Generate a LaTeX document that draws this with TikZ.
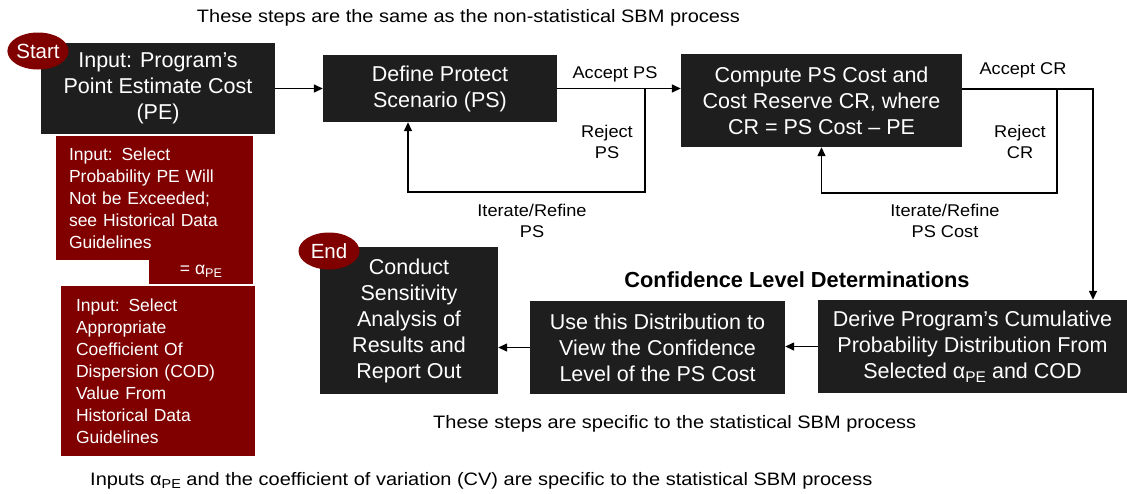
\documentclass[tikz,border=0pt]{standalone}
\usepackage{fontspec}
\usepackage{graphicx}
\setmainfont{Liberation Sans}
\newfontfamily\widefont[FakeStretch=1.11]{Liberation Sans}
\newfontfamily\lblfont[FakeStretch=1.07]{Liberation Sans}
\usetikzlibrary{arrows.meta,shapes.geometric}
\definecolor{boxdark}{HTML}{1E1E1E}
\definecolor{maroon}{HTML}{800000}
\newcommand{\ape}{α\raisebox{-0.35ex}{\scalebox{0.72}{PE}}}
\tikzset{
  darkbox/.style={draw=none, fill=boxdark, text=white, align=center, inner sep=0pt,
    font=\fontsize{21.5pt}{26pt}\selectfont},
  redbox/.style={draw=none, fill=maroon, text=white, align=left, inner ysep=0pt,
    font=\fontsize{17.5pt}{22pt}\selectfont},
  oval/.style={ellipse, fill=maroon, text=white, inner sep=0pt, minimum width=61pt,
    minimum height=37pt, font=\fontsize{20.5pt}{24pt}\selectfont},
  lbl/.style={align=center, inner sep=0pt, font=\lblfont\fontsize{17pt}{21pt}\selectfont},
  caption/.style={inner sep=0pt, font=\widefont\fontsize{18pt}{22pt}\selectfont},
  conn/.style={line width=1.4pt, -{Triangle[length=9pt,width=8pt]}}
}
\begin{document}
\begin{tikzpicture}[x=1pt,y=-1pt]
\useasboundingbox (0,0) rectangle (1127,493);
% boxes
\node[darkbox, minimum width=234pt, minimum height=91pt] (b1) at (158,88.5)
  {Input: Program’s\\Point Estimate Cost\\(PE)};
\node[darkbox, minimum width=234pt, minimum height=67pt] (b2) at (440,88.5)
  {Define Protect\\Scenario (PS)};
\node[darkbox, minimum width=281pt, minimum height=93pt] (b3) at (821.5,100.5)
  {Compute PS Cost and\\Cost Reserve CR, where\\CR = PS Cost – PE};
\node[darkbox, minimum width=178pt, minimum height=147pt] (b4) at (409,320.5)
  {Conduct\\Sensitivity\\Analysis of\\Results and\\Report Out};
\node[darkbox, minimum width=255pt, minimum height=93pt] (b5) at (657.5,347.5)
  {Use this Distribution to\\View the Confidence\\Level of the PS Cost};
\node[darkbox, minimum width=309pt, minimum height=93pt] (b6) at (972.5,346.5)
  {Derive Program’s Cumulative\\Probability Distribution From\\Selected \ape{} and COD};
% red input boxes
\node[redbox, minimum width=104pt, minimum height=25pt, inner xsep=0pt, align=center] (r1b) at (201,271.5)
  {= \ape};
\node[redbox, minimum width=197pt, minimum height=124pt, inner xsep=13pt, text width=171pt] (r1) at (154.5,198)
  {Input: Select\\Probability PE Will\\Not be Exceeded;\\see Historical Data\\Guidelines};
\node[redbox, minimum width=194pt, minimum height=170pt, inner xsep=15pt, text width=164pt] (r2) at (158,371)
  {Input: Select\\Appropriate\\Coefficient Of\\Dispersion (COD)\\Value From\\Historical Data\\Guidelines};
% start / end
\node[oval] (start) at (38,51) {Start};
\node[oval] (end) at (329,251) {End};
% connectors
\draw[conn] (b1.east) -- (b2.west);
\draw[conn] (b2.east) -- (b2.east -| b3.west);
\coordinate (rj1) at (645,88.5);
\coordinate (rj2) at (408,192);
\draw[conn] (rj1) |- (rj2) -- (rj2 |- b2.south);
\coordinate (acr) at (1093,89);
\draw[conn] (b3.east |- acr) -- (acr) -- (acr |- b6.north);
\coordinate (rc1) at (1057,89);
\coordinate (rc2) at (821.5,193);
\draw[conn] (rc1) |- (rc2) -- (rc2 |- b3.south);
\draw[conn] (b6.west) -- (b6.west -| b5.east);
\draw[conn] (b5.west) -- (b5.west -| b4.east);
% labels
\node[lbl] (lacps) at (615,74) {Accept PS};
\node[lbl] (lrjps) at (607,142) {Reject\\PS};
\node[lbl] (litps) at (532,221) {Iterate/Refine\\PS};
\node[lbl] (lacr) at (1023,70) {Accept CR};
\node[lbl] (lrjcr) at (1020,142) {Reject\\CR};
\node[lbl] (litcr) at (945,221) {Iterate/Refine\\PS Cost};
% captions
\node[caption] (ttop) at (468.5,18) {These steps are the same as the non-statistical SBM process};
\node[inner sep=0pt, font=\bfseries\fontsize{21.8pt}{25pt}\selectfont] (tcl) at (797,280) {Confidence Level Determinations};
\node[caption, anchor=west] (tspec) at (433,424) {These steps are specific to the statistical SBM process};
\node[caption, anchor=west] (tbot) at (90,481) {Inputs \ape{} and the coefficient of variation (CV) are specific to the statistical SBM process};
\end{tikzpicture}
\end{document}
